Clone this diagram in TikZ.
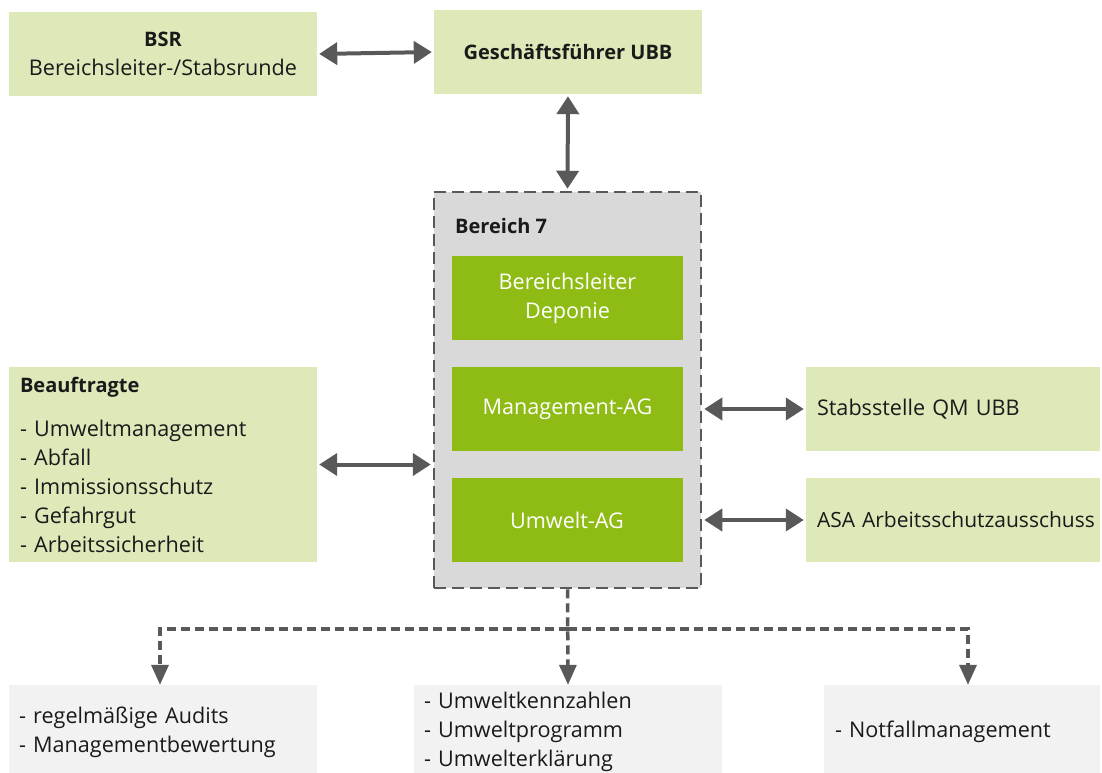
\documentclass[tikz,border=0pt]{standalone}
\usepackage{fontspec}
\setmainfont{Open Sans}
\usetikzlibrary{arrows.meta}
\definecolor{palegreen}{HTML}{DEE9BA}
\definecolor{leafgreen}{HTML}{8FBC14}
\definecolor{areagray}{HTML}{D9D9D9}
\definecolor{notegray}{HTML}{F2F2F2}
\definecolor{linegray}{HTML}{595959}
\definecolor{ink}{HTML}{1A1A1A}
% headings are set a little smaller than the body text
\newcommand{\head}[1]{{\fontsize{20}{28.5}\selectfont\bfseries #1}}
\tikzset{
  every node/.style={font=\fontsize{21.6}{29}\selectfont, text=ink, inner sep=0pt},
  unit/.style={fill=palegreen, minimum width=308pt, minimum height=84pt, align=center},
  sidebox/.style={fill=palegreen, minimum width=294pt, minimum height=84pt,
    text width=272pt, align=left},
  team/.style={fill=leafgreen, minimum width=231pt, minimum height=84pt,
    align=center, text=white},
  area/.style={fill=areagray, draw=linegray, line width=2.5pt,
    dash pattern=on 12pt off 6pt},
  note/.style={fill=notegray, minimum height=94pt, align=left},
  link/.style={draw=linegray, line width=4pt,
    {Triangle[length=18pt,width=22pt]}-{Triangle[length=18pt,width=22pt]},
    shorten <=2pt, shorten >=2pt},
  flow/.style={draw=linegray, line width=3.5pt, dash pattern=on 9pt off 5pt,
    -{Triangle[length=20pt,width=17pt]}},
}
\begin{document}
\begin{tikzpicture}[x=1pt,y=-1pt]
\clip (0,0) rectangle (1102,773);

% top row
\node[unit] (bsr) at (163,54) {\head{BSR}\\Bereichsleiter-/Stabsrunde};
\node[unit, minimum width=268pt] (gf) at (568,52) {\head{Geschäftsführer UBB}};

% area with its teams
\node[area, minimum width=267pt, minimum height=396pt] (bereich) at (567.5,390) {};
\node[anchor=base west] (btitle) at (455,233) {\head{Bereich 7}};
\node[team] (bl) at (567.5,298) {Bereichsleiter\\Deponie};
\node[team] (mag) at (567.5,409) {Management-AG};
\node[team] (uag) at (567,520) {Umwelt-AG};

% left side
\node[fill=palegreen, minimum width=308pt, minimum height=195pt,
  text width=286pt, align=left] (beauf) at (163,464.5)
  {\head{Beauftragte}\\[15pt]- Umweltmanagement\\- Abfall\\- Immissionsschutz\\- Gefahrgut\\- Arbeitssicherheit};

% right side (one unbroken line each)
\node[sidebox] (qm) at (953,409) {\mbox{Stabsstelle QM UBB}};
\node[sidebox, font=\fontsize{21}{29}\selectfont] (asa) at (953,520)
  {\mbox{ASA Arbeitsschutzausschuss}};

% bottom notes
\node[note, minimum width=308pt, text width=288pt] (audit) at (163,732)
  {- regelmäßige Audits\\- Managementbewertung};
\node[note, minimum width=308pt, text width=288pt] (kenn) at (568,732)
  {- Umweltkennzahlen\\- Umweltprogramm\\- Umwelterklärung};
\node[note, minimum width=276pt, text width=254pt] (notfall) at (962,732)
  {- Notfallmanagement};

% connectors
\draw[link] (bsr.east) -- (gf.west);
\draw[link] (gf.south) -- (bereich.north);
\draw[link] (beauf.east) -- (beauf.east -| bereich.west);
\draw[link] (qm.west -| bereich.east) -- (qm.west);
\draw[link] (asa.west -| bereich.east) -- (asa.west);

\coordinate (split) at (568,629);
\draw[flow] (bereich.south) -- (kenn.north);
\draw[flow] (split) -| ([xshift=-3pt]audit.north);
\draw[flow] (split) -| ([xshift=6pt]notfall.north);
\end{tikzpicture}
\end{document}
